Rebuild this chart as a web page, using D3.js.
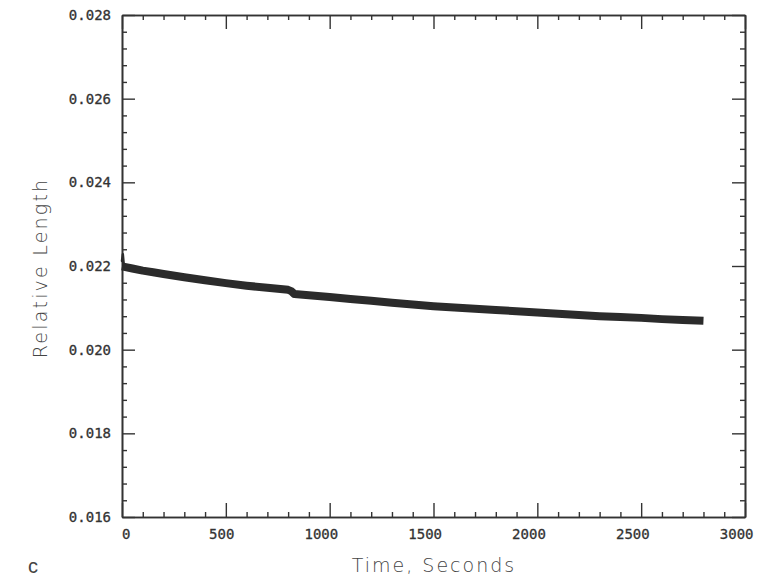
<!DOCTYPE html>
<html>
<head>
<meta charset="utf-8">
<script src="https://cdn.jsdelivr.net/npm/d3@7"></script>
<style>
body{margin:0;background:#fff;}
svg{display:block;}
.tick text{font-family:"DejaVu Sans Mono",monospace;font-size:14px;fill:#333;stroke:#333;stroke-width:0.3px;}
</style>
</head>
<body>
<svg id="chart" width="758" height="579"></svg>
<script>
// Data (time in seconds, relative length)
const times  = [0, 50, 100, 150, 200, 300, 400, 500, 600, 700, 800, 815, 830, 900, 1000, 1100, 1200, 1300, 1400, 1500, 1600, 1700, 1800, 1900, 2000, 2100, 2200, 2300, 2400, 2500, 2600, 2700, 2800];
const values = [0.02199, 0.02194, 0.02189, 0.02185, 0.02181, 0.02173, 0.02166, 0.02159, 0.02153, 0.02148, 0.02143, 0.02140, 0.02133, 0.02130, 0.02126, 0.02121, 0.02117, 0.02112, 0.02108, 0.02104, 0.02101, 0.02098, 0.02095, 0.02092, 0.02089, 0.02086, 0.02083, 0.02080, 0.02078, 0.02076, 0.02073, 0.02071, 0.02069];
// initial transient at the start of the record
const startTimes  = [0, 4, 8, 14];
const startValues = [0.02212, 0.02228, 0.02206, 0.02199];
const xMajorTicks = [0, 500, 1000, 1500, 2000, 2500, 3000];
const yMajorTicks = [0.016, 0.018, 0.020, 0.022, 0.024, 0.026, 0.028];
const xLabel = "Time, Seconds";
const yLabel = "Relative Length";
const panelLabel = "c";

const svg = d3.select("#chart");
const L = 122, R = 745, T = 15, B = 517;
const x = d3.scaleLinear().domain([0, 3000]).range([L, R]);
const y = d3.scaleLinear().domain([0.016, 0.028]).range([B, T]);
const xMinor = d3.range(0, 3001, 100).filter(v => v % 500 !== 0);
const yMinor = d3.range(0, 31).map(i => +(0.016 + i * 0.0004).toFixed(4)).filter(v => Math.round(v * 10000) % 20 !== 0);

const axisColor = "#333";
function styleAxis(g){
  g.select(".domain").attr("stroke", axisColor).attr("stroke-width", 1.6);
  g.selectAll(".tick line").attr("stroke", axisColor).attr("stroke-width", 1.4);
}

// bottom
const bottom = svg.append("g").attr("transform", `translate(0,${B})`)
  .call(d3.axisBottom(x).tickValues(xMajorTicks).tickSizeInner(-14).tickSizeOuter(0).tickPadding(12).tickFormat(d3.format("d")))
  .call(styleAxis);
bottom.selectAll(".tick text").attr("text-anchor", "end").attr("x", 8);
svg.append("g").attr("transform", `translate(0,${B})`)
  .call(d3.axisBottom(x).tickValues(xMinor).tickSizeInner(-5).tickSizeOuter(0).tickFormat(""))
  .call(styleAxis);
// top
svg.append("g").attr("transform", `translate(0,${T})`)
  .call(d3.axisTop(x).tickValues(xMajorTicks).tickSizeInner(-14).tickSizeOuter(0).tickFormat(""))
  .call(styleAxis);
svg.append("g").attr("transform", `translate(0,${T})`)
  .call(d3.axisTop(x).tickValues(xMinor).tickSizeInner(-5).tickSizeOuter(0).tickFormat(""))
  .call(styleAxis);
// left
svg.append("g").attr("transform", `translate(${L},0)`)
  .call(d3.axisLeft(y).tickValues(yMajorTicks).tickSizeInner(-13).tickSizeOuter(0).tickPadding(11).tickFormat(d3.format(".3f")))
  .call(styleAxis);
svg.append("g").attr("transform", `translate(${L},0)`)
  .call(d3.axisLeft(y).tickValues(yMinor).tickSizeInner(-5).tickSizeOuter(0).tickFormat(""))
  .call(styleAxis);
// right
svg.append("g").attr("transform", `translate(${R},0)`)
  .call(d3.axisRight(y).tickValues(yMajorTicks).tickSizeInner(-13).tickSizeOuter(0).tickFormat(""))
  .call(styleAxis);
svg.append("g").attr("transform", `translate(${R},0)`)
  .call(d3.axisRight(y).tickValues(yMinor).tickSizeInner(-5).tickSizeOuter(0).tickFormat(""))
  .call(styleAxis);

// data
const line = d3.line().x(d => x(d[0])).y(d => y(d[1]));
svg.append("path").datum(times.map((t, i) => [t, values[i]]))
  .attr("d", line)
  .attr("fill", "none")
  .attr("stroke", "#2b2b2b")
  .attr("stroke-width", 8)
  .attr("stroke-linejoin", "round")
  .attr("stroke-linecap", "butt");
svg.append("path").datum(startTimes.map((t, i) => [t, startValues[i]]))
  .attr("d", line)
  .attr("fill", "none")
  .attr("stroke", "#2b2b2b")
  .attr("stroke-width", 2.5)
  .attr("stroke-linejoin", "round")
  .attr("stroke-linecap", "round");

// labels
svg.append("text")
  .attr("transform", `translate(47,${(T + B) / 2 + 2}) rotate(-90)`)
  .attr("text-anchor", "middle")
  .attr("font-family", "DejaVu Sans, sans-serif")
  .attr("font-weight", 300)
  .attr("font-size", 19)
  .attr("letter-spacing", 2.2)
  .attr("fill", "#444")
  .text(yLabel);

svg.append("text")
  .attr("x", 434)
  .attr("y", 572)
  .attr("text-anchor", "middle")
  .attr("font-family", "DejaVu Sans, sans-serif")
  .attr("font-weight", 300)
  .attr("font-size", 19)
  .attr("letter-spacing", 2)
  .attr("fill", "#444")
  .text(xLabel);

svg.append("text")
  .attr("x", 33)
  .attr("y", 573)
  .attr("text-anchor", "middle")
  .attr("font-family", "Liberation Sans, Arial, sans-serif")
  .attr("font-size", 20)
  .attr("fill", "#444")
  .text(panelLabel);
</script>
</body>
</html>
